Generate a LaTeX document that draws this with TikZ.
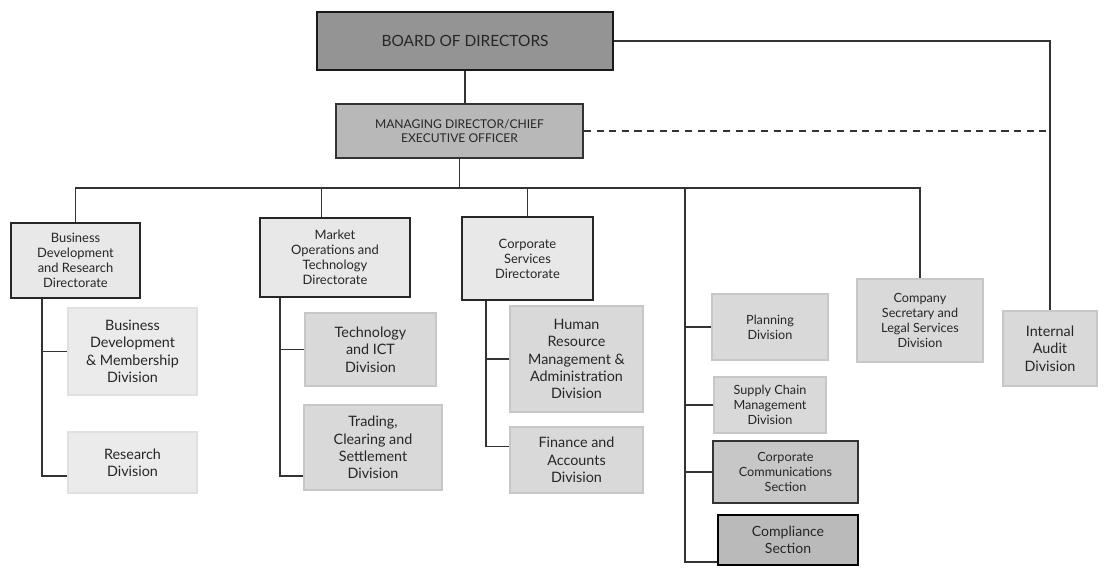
\documentclass[tikz,border=0pt]{standalone}
\usepackage{fontspec}
\setmainfont{Lato}
\begin{document}
\begin{tikzpicture}[x=0.025cm,y=-0.025cm,
        sz/.style 2 args={minimum width=#1*0.025cm,minimum height=#2*0.025cm,inner sep=0pt,align=center,text=black!85},
        line/.style={draw=black!80,line width=0.9pt},
        top/.style={draw=black!90,line width=1.6pt,fill=black!42,font=\fontsize{11}{13}\selectfont},
        chief/.style={draw=black!80,line width=1.2pt,fill=black!28,font=\fontsize{8.6}{10}\selectfont},
        directorate/.style={draw=black!85,line width=1.3pt,fill=black!9,font=\fontsize{9.2}{10.6}\selectfont},
        palediv/.style={draw=black!12,line width=1pt,fill=black!8,font=\fontsize{10.2}{12.4}\selectfont},
        division/.style={draw=black!22,line width=1pt,fill=black!15,font=\fontsize{10.2}{12.4}\selectfont},
        smalldiv/.style={draw=black!22,line width=1pt,fill=black!15,font=\fontsize{9}{10.6}\selectfont},
        section/.style={draw=black!80,line width=1.2pt,fill=black!22,font=\fontsize{9}{10.6}\selectfont}]
    \useasboundingbox (0,0) rectangle (1104,584);
    \node[top,sz={296}{58}] (board) at (465,41) {BOARD OF DIRECTORS};
    \node[chief,sz={247}{54}] (md) at (459.5,131) {MANAGING DIRECTOR/CHIEF\\EXECUTIVE OFFICER};
    \node[directorate,sz={129}{75}] (bdr) at (75.5,260.5) {Business\\Development\\and Research\\Directorate};
    \node[directorate,sz={150}{79}] (mot) at (335,257.5) {Market\\Operations and\\Technology\\Directorate};
    \node[directorate,sz={131}{83}] (csd) at (527.5,258.5) {Corporate\\Services\\Directorate};
    \node[palediv,sz={129}{87}] (bdm) at (132.5,351.5) {Business\\Development\\\& Membership\\Division};
    \node[palediv,sz={129}{61}] (res) at (132.5,462.5) {Research\\Division};
    \node[division,sz={131}{73}] (tict) at (370.5,349.5) {Technology\\and ICT\\Division};
    \node[division,sz={138}{85}] (tcs) at (373,447.5) {Trading,\\Clearing and\\Settlement\\Division};
    \node[division,sz={133}{106}] (hr) at (576.5,359) {Human\\Resource\\Management \&\\Administration\\Division};
    \node[division,sz={133}{66}] (fin) at (576.5,460) {Finance and\\Accounts\\Division};
    \node[smalldiv,sz={116}{66}] (plan) at (770,327) {Planning\\Division};
    \node[smalldiv,sz={112}{56}] (scm) at (770,405) {Supply Chain\\Management\\Division};
    \node[section,sz={145}{62}] (cc) at (785.5,472) {Corporate\\Communications\\Section};
    \node[section,line width=1.8pt,draw=black,fill=black!27,font=\fontsize{10}{12}\selectfont,sz={140}{50}] (comp) at (788,540) {Compliance\\Section};
    \node[smalldiv,sz={126}{83}] (cos) at (920,320.5) {Company\\Secretary and\\Legal Services\\Division};
    \node[division,sz={94}{75}] (ia) at (1050,348.5) {Internal\\Audit\\Division};
    \coordinate (busL) at (75.5,188);
    \coordinate (busR) at (920,188);
    \draw[line] (board.south) -- (board.south |- md.north);
    \draw[line] (md.south) -- (md.south |- busL);
    \draw[line] (bdr.north) -- (busL) -- (busR) -- (cos.north);
    \draw[line] ([xshift=-0.33cm]mot.north) -- ([xshift=-0.33cm]mot.north |- busL);
    \draw[line] (csd.north) -- (csd.north |- busL);
    \draw[line] (685,188) |- ([yshift=-0.55cm]comp.west);
    \draw[line] (plan.west) -- (plan.west -| 685,0);
    \draw[line] (scm.west) -- (scm.west -| 685,0);
    \draw[line] (cc.west) -- (cc.west -| 685,0);
    \draw[line] (bdr.south -| 42,0) |- ([yshift=-0.34cm]res.west);
    \draw[line] (bdm.west) -- (bdm.west -| 42,0);
    \draw[line] (mot.south -| 280,0) |- ([yshift=-0.71cm]tcs.west);
    \draw[line] (tict.west) -- (tict.west -| 280,0);
    \draw[line] (csd.south -| 486,0) |- ([yshift=0.33cm]fin.west);
    \draw[line] (hr.west) -- (hr.west -| 486,0);
    \draw[line] (board.east) -| (ia.north);
    \draw[line,dashed,dash pattern=on 5pt off 4pt] (md.east) -- (md.east -| ia.north);
\end{tikzpicture}
\end{document}
